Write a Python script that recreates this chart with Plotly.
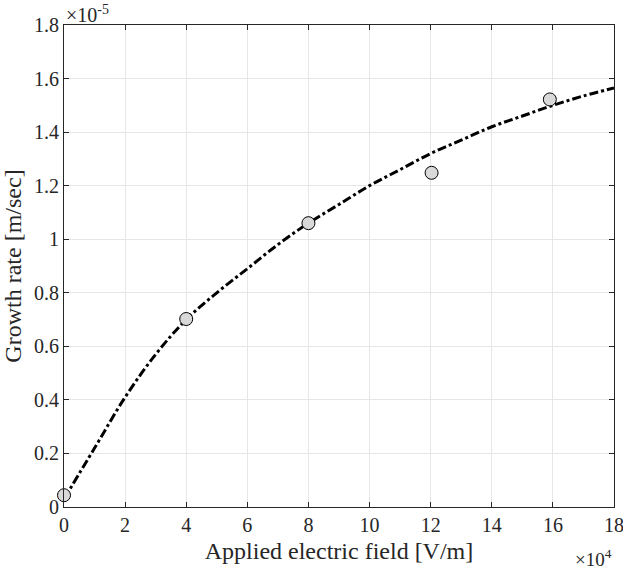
import plotly.graph_objects as go

# Measured data (x in 1e4 V/m, y in 1e-5 m/s)
meas_x = [0, 4, 8, 12.03, 15.9]
meas_y = [0.044, 0.702, 1.06, 1.248, 1.522]

# Fitted curve
fit_x = [0, 1, 2, 3, 4, 5, 6, 7, 8, 9, 10, 11, 12, 13, 14, 15, 16, 17, 18]
fit_y = [0.03, 0.22, 0.41, 0.57, 0.70, 0.80, 0.89, 0.98, 1.06, 1.13, 1.20,
         1.26, 1.32, 1.37, 1.42, 1.46, 1.50, 1.535, 1.565]

x_ticks = [0, 2, 4, 6, 8, 10, 12, 14, 16, 18]
y_ticks = [0, 0.2, 0.4, 0.6, 0.8, 1.0, 1.2, 1.4, 1.6, 1.8]
y_ticklabels = ["0", "0.2", "0.4", "0.6", "0.8", "1", "1.2", "1.4", "1.6", "1.8"]

FONT = "Times New Roman, Liberation Serif, Times, serif"
AXC = "#262626"

fig = go.Figure()
fig.add_trace(go.Scatter(x=fit_x, y=fit_y, mode="lines",
                         line=dict(color="black", width=3, dash="dashdot", shape="spline"),
                         showlegend=False, hoverinfo="skip"))
fig.add_trace(go.Scatter(x=meas_x, y=meas_y, mode="markers",
                         marker=dict(symbol="circle", size=13, color="#d9d9d9",
                                     line=dict(color="black", width=1)),
                         showlegend=False, cliponaxis=False))

axis_common = dict(showline=True, linecolor=AXC, linewidth=1, mirror="ticks",
                   ticks="inside", ticklen=5, tickcolor=AXC, showgrid=True,
                   gridcolor="#e6e6e6", gridwidth=1, zeroline=False, automargin=False,
                   ticklabeloverflow="allow",
                   tickfont=dict(family=FONT, size=20, color=AXC))

fig.update_layout(
    width=623, height=571,
    margin=dict(l=64, r=9, t=25, b=64),
    paper_bgcolor="white", plot_bgcolor="white",
    font=dict(family=FONT, color=AXC),
    xaxis=dict(range=[0, 18], tickvals=x_ticks, ticktext=[str(t) for t in x_ticks],
               title=dict(text="Applied electric field [V/m]",
                          font=dict(family=FONT, size=24, color=AXC), standoff=7),
               **axis_common),
    yaxis=dict(range=[0, 1.8], tickvals=y_ticks, ticktext=y_ticklabels,
               title=dict(text="Growth rate [m/sec]",
                          font=dict(family=FONT, size=24, color=AXC), standoff=5),
               **axis_common),
    annotations=[
        dict(text="×10<sup>-5</sup>", xref="paper", yref="paper", x=0, y=1,
             xanchor="left", yanchor="bottom", showarrow=False, yshift=-3,
             font=dict(family=FONT, size=20, color=AXC)),
        dict(text="×10<sup>4</sup>", xref="paper", yref="paper", x=1, y=0,
             xanchor="right", yanchor="top", showarrow=False, yshift=-37,
             font=dict(family=FONT, size=19, color=AXC)),
    ],
)

fig.write_html("out.html")
